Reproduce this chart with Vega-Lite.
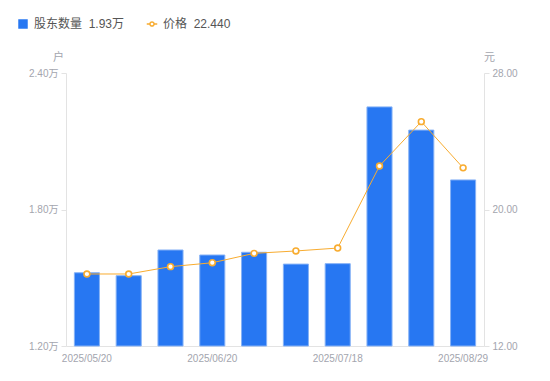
{
  "$schema": "https://vega.github.io/schema/vega-lite/v6.json",
  "width": 418,
  "height": 273,
  "autosize": {"type": "none"},
  "padding": {"left": 66, "top": 73, "right": 66, "bottom": 35},
  "config": {
    "view": {"stroke": null},
    "font": "Liberation Sans, Noto Sans CJK SC",
    "axis": {"grid": false, "labelFont": "Liberation Sans, Noto Sans CJK SC", "titleFont": "Liberation Sans, Noto Sans CJK SC"}
  },
  "data": {"values": [
    {"date": "2025/05/20", "holders": 15220, "price": 16.22},
    {"date": "2025/05/30", "holders": 15090, "price": 16.22},
    {"date": "2025/06/10", "holders": 16220, "price": 16.65},
    {"date": "2025/06/20", "holders": 16000, "price": 16.88},
    {"date": "2025/06/30", "holders": 16120, "price": 17.43},
    {"date": "2025/07/10", "holders": 15600, "price": 17.57},
    {"date": "2025/07/18", "holders": 15620, "price": 17.74},
    {"date": "2025/07/31", "holders": 22510, "price": 22.55},
    {"date": "2025/08/15", "holders": 21490, "price": 25.15},
    {"date": "2025/08/29", "holders": 19300, "price": 22.44}
  ]},
  "encoding": {
    "x": {
      "field": "date", "type": "ordinal", "sort": null,
      "scale": {"paddingInner": 0.4, "paddingOuter": 0.2},
      "axis": {
        "title": null, "labelAngle": 0, "ticks": false,
        "values": ["2025/05/20", "2025/06/20", "2025/07/18", "2025/08/29"],
        "domainColor": "#E3E3E3", "labelColor": "#A3A5AE", "labelFontSize": 10, "labelPadding": 7
      }
    }
  },
  "layer": [
    {
      "mark": {"type": "bar", "stroke": "#86B2F6", "strokeWidth": 1},
      "encoding": {
        "y": {
          "field": "holders", "type": "quantitative",
          "scale": {"domain": [12000, 24000], "nice": false, "zero": false},
          "axis": {
            "orient": "left", "values": [12000, 18000, 24000],
            "labelExpr": "format(datum.value/10000, '.2f') + '万'",
            "domainColor": "#E3E3E3", "tickColor": "#E3E3E3", "tickSize": 5,
            "labelColor": "#A3A5AE", "labelFontSize": 10, "labelPadding": 3,
            "title": "户", "titleAngle": 0, "titleX": -8, "titleY": -16,
            "titleAlign": "center", "titleBaseline": "middle",
            "titleColor": "#A3A5AE", "titleFontSize": 11, "titleFontWeight": "normal"
          }
        },
        "y2": {"datum": 12000},
        "fill": {
          "datum": "股东数量",
          "scale": {"range": ["#2777F2"]},
          "legend": {
            "orient": "none", "legendX": -49, "legendY": -55, "title": null,
            "symbolType": "square", "symbolSize": 90, "symbolStrokeWidth": 0,
            "labelExpr": "datum.label + '\u00a0\u00a01.93万'",
            "labelFontSize": 12, "labelColor": "#555", "labelOffset": 5
          }
        }
      }
    },
    {
      "encoding": {
        "y": {
          "field": "price", "type": "quantitative",
          "scale": {"domain": [12, 28], "nice": false, "zero": false},
          "axis": {
            "orient": "right", "values": [12, 20, 28], "format": ".2f",
            "domainColor": "#E3E3E3", "tickColor": "#E3E3E3", "tickSize": 5,
            "labelColor": "#A3A5AE", "labelFontSize": 10, "labelPadding": 3,
            "title": "元", "titleAngle": 0, "titleX": 5, "titleY": -16,
            "titleAlign": "center", "titleBaseline": "middle",
            "titleColor": "#A3A5AE", "titleFontSize": 11, "titleFontWeight": "normal"
          }
        },
        "stroke": {
          "datum": "价格",
          "scale": {"range": ["#F8AC30"]},
          "legend": {
            "orient": "none", "legendX": 80, "legendY": -55, "title": null,
            "symbolType": "M-1,0H-0.4M0.4,0H1M-0.4,0A0.4,0.4 0 1,0 0.4,0A0.4,0.4 0 1,0 -0.4,0",
            "symbolSize": 110, "symbolStrokeWidth": 1.5, "symbolFillColor": "#ffffff",
            "labelExpr": "datum.label + '\u00a0\u00a022.440'",
            "labelFontSize": 12, "labelColor": "#555", "labelOffset": 5
          }
        }
      },
      "layer": [
        {"mark": {"type": "line", "strokeWidth": 1}},
        {"mark": {"type": "point", "filled": true, "fill": "#ffffff", "strokeWidth": 1.6, "size": 34, "opacity": 1}}
      ]
    }
  ],
  "resolve": {"scale": {"y": "independent"}}
}
